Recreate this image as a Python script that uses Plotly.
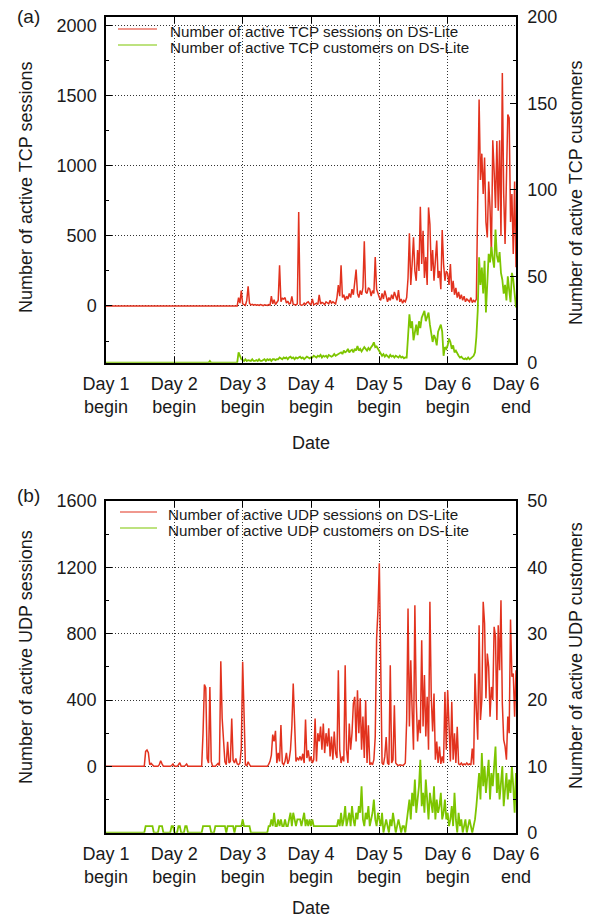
import plotly.graph_objects as go

# ---------------- data (sampled every 0.02 day, Day 1 begin = 0, Day 6 end = 6) ----------------
tcp_sessions = [
    0, 0, 0, 0, 0, 0, 0, 0, 0, 0, 0, 0, 0, 0, 0, 0, 0, 0, 0, 0, 0, 0, 0, 0,
    0, 0, 0, 0, 0, 0, 0, 0, 0, 0, 0, 0, 0, 0, 0, 0, 0, 0, 0, 0, 0, 0, 0, 0,
    0, 0, 0, 0, 0, 0, 0, 0, 0, 0, 0, 0, 0, 0, 0, 0, 0, 0, 0, 0, 0, 0, 0, 0,
    0, 0, 0, 0, 0, 0, 0, 0, 0, 0, 0, 0, 0, 0, 0, 0, 0, 0, 0, 0, 0, 0, 0, 0,
    0, 60, 20, 110, 15, 10, 5, 40, 140, 20, 8, 12, 6, 10, 5, 8, 4, 10, 6, 3, 8, 5, 4, 10, 6,
    70, 15, 45, 10, 25, 40, 290, 30, 55, 50, 60, 20, 35, 15, 20, 68, 12, 10, 8, 15, 671, 10, 5, 8, 20,
    10, 25, 30, 15, 10, 50, 8, 12, 20, 10, 80, 15, 25, 20, 10, 30, 25, 15, 40, 20, 30, 25, 15, 60, 150,
    70, 291, 60, 80, 40, 70, 50, 90, 60, 120, 80, 200, 260, 90, 60, 110, 80, 130, 462, 100, 90, 130, 120, 70, 110,
    90, 350, 120, 80, 60, 40, 90, 50, 110, 70, 30, 60, 40, 80, 50, 100, 60, 40, 114, 30, 50, 20, 40, 30, 60,
    200, 519, 150, 300, 490, 250, 180, 400, 250, 709, 300, 538, 200, 350, 150, 704, 585, 250, 400, 180, 300, 467, 200, 250, 120,
    543, 300, 180, 250, 230, 150, 300, 100, 180, 80, 130, 60, 100, 50, 80, 40, 70, 30, 50, 40, 30, 60, 25, 40, 30,
    50, 700, 1474, 900, 1088, 800, 1060, 600, 490, 889, 700, 372, 1183, 965, 700, 1178, 680, 1183, 500, 1664, 800, 443, 1000, 1367, 1343,
    600, 800, 372, 889, 277,
]

tcp_customers = [
    0, 0, 0, 0, 0, 0, 0, 0, 0, 0, 0, 0, 0, 0, 0, 0, 0, 0, 0, 0, 0, 0, 0, 0,
    0, 0, 0, 0, 0, 0, 0, 0, 0, 0, 0, 0, 0, 0, 0, 0, 0, 0, 0, 0, 0, 0, 0, 0,
    0, 0, 0, 0, 0, 0, 0, 0, 0, 0, 0, 0, 0, 0, 0, 0, 0, 0, 0, 0, 0, 0, 0, 0,
    0, 0, 0, 0, 1, 0, 0, 0, 0, 0, 0, 0, 0, 0, 0, 0, 0, 0, 0, 0, 0, 0, 0, 0,
    0, 6, 4, 2, 1.5, 1, 2, 1, 1.5, 1, 1, 2, 1, 1, 1.5, 1, 2, 1, 1, 1.5, 2, 1, 2, 1.5, 2,
    1, 2, 2, 1.5, 2, 2, 3, 2.5, 2, 3, 2.5, 3, 2, 3, 3.5, 2.5, 3, 2, 3, 2.5, 3, 3.5, 2.5, 3, 2,
    3, 3.5, 3, 2.5, 3, 3, 4, 3.5, 3, 4, 3.5, 4.5, 3, 4, 3.5, 4, 3, 4.5, 4, 3.5, 4, 5, 4, 4.5, 5,
    5.5, 6, 5, 7, 6, 6.5, 8, 6, 7, 7.5, 6, 8, 7, 9.6, 7, 8, 6.5, 7.5, 9, 8, 7, 8.5, 7.5, 9, 10,
    11.8, 9, 9.4, 8, 6, 5, 4, 5, 3.5, 4.5, 4, 3, 4.5, 3.5, 4, 3, 4, 3.5, 3, 4, 3, 3.5, 2.5, 3, 3,
    15, 28, 20, 24, 13, 18, 22, 16, 24, 20, 26, 28, 30, 24, 27, 29, 22, 18, 12, 16, 14, 10, 18, 20, 22,
    18, 4, 9, 8, 10, 14, 12, 8, 10, 6, 7, 5, 4, 3, 3.5, 2.5, 2, 2.5, 2, 3, 2, 2.5, 3, 4, 6,
    15, 30, 61, 45, 55, 40, 59, 29, 50, 63, 58, 67, 60, 55, 77, 62, 58, 64, 52, 48, 40, 45, 36, 50, 42,
    35, 52, 48, 40, 32,
]

udp_sessions = [
    0, 0, 0, 0, 0, 0, 0, 0, 0, 0, 0, 0, 0, 0, 0, 0, 0, 0, 0, 0, 0, 0, 0, 0, 0, 0, 0, 0, 0,
    90, 98, 82, 10, 18, 5, 0, 0, 0, 0, 10, 34, 15, 0, 0, 0, 0, 0, 0, 5, 14, 0, 0, 0, 10,
    22, 0, 0, 0, 5, 14, 0, 0, 0, 0, 0, 0, 0, 0, 0, 0, 0, 200, 493, 473, 48, 20, 479, 30, 0,
    0, 0, 10, 18, 5, 634, 289, 128, 28, 10, 148, 20, 30, 289, 38, 20, 48, 15, 10, 20, 108, 630, 243, 10, 5,
    28, 10, 0, 0, 0, 0, 0, 0, 0, 0, 0, 0, 0, 0, 0, 12, 30, 68, 192, 150, 214, 20, 82, 30, 249,
    20, 10, 30, 82, 15, 40, 100, 243, 499, 182, 30, 50, 40, 60, 36, 76, 20, 283, 50, 97, 30, 60, 20, 40, 288,
    30, 200, 150, 240, 100, 258, 80, 200, 120, 230, 60, 180, 40, 210, 80, 50, 580, 100, 20, 60, 30, 610, 100, 20, 258,
    100, 200, 378, 419, 150, 459, 200, 410, 100, 300, 50, 399, 20, 248, 10, 20, 10, 40, 177, 771, 942, 1224, 640, 20, 10,
    60, 177, 20, 10, 610, 20, 40, 368, 20, 10, 5, 10, 8, 5, 10, 20, 278, 952, 240, 640, 338, 100, 972, 400, 150,
    280, 200, 761, 240, 550, 180, 420, 100, 992, 420, 210, 439, 40, 150, 20, 120, 15, 60, 20, 449, 100, 459, 200, 30, 389,
    40, 200, 20, 238, 15, 10, 20, 8, 15, 10, 20, 10, 15, 8, 107, 10, 560, 338, 160, 851, 280, 400, 992, 862, 410,
    680, 600, 300, 479, 400, 841, 781, 280, 851, 580, 1002, 380, 160, 120, 40, 300, 200, 886, 540, 560, 300, 580,
]

udp_customers = [
    0, 0, 0, 0, 0, 0, 0, 0, 0, 0, 0, 0, 0, 0, 0, 0, 0, 0, 0, 0, 0, 0, 0, 0, 0, 0, 0, 0, 0,
    1, 1, 1, 1, 1, 1, 0, 0, 0, 0, 1, 1, 1, 0, 0, 0, 0, 0, 0, 1, 1, 0, 0, 0, 1,
    1, 0, 0, 0, 1, 1, 0, 0, 0, 0, 0, 0, 0, 0, 0, 0, 0, 1, 1, 1, 1, 1, 1, 0, 0,
    0, 1, 1, 1, 1, 1, 1, 1, 1, 0, 1, 1, 1, 1, 1, 0, 1, 1, 1, 1, 1, 2, 1, 1, 1,
    1, 1, 0, 0, 0, 0, 0, 0, 0, 0, 0, 0, 0, 0, 0, 1, 1, 2, 1, 3, 1, 1, 2, 1, 2,
    1, 1, 2, 1, 1, 2, 3, 1, 3, 2, 1, 2, 2, 2, 1, 2, 3, 1, 2, 1, 2, 1, 2, 1, 1,
    1, 1, 1, 1, 1, 1, 1, 1, 1, 1, 1, 1, 1, 1, 1, 1, 2, 1, 3, 1, 2, 4, 1, 2, 3,
    1, 4, 2, 1, 3, 2, 4, 3, 7, 2, 1, 3, 2, 4, 1, 2, 3, 5, 2, 1, 3, 2, 1, 3, 0,
    1, 2, 1, 0, 2, 1, 3, 1, 0, 1, 2, 1, 0, 1, 1, 0, 2, 3, 5, 2, 6, 4, 8, 3, 5,
    7, 11, 4, 6, 3, 8, 5, 2, 6, 4, 3, 7, 2, 5, 3, 4, 6, 2, 3, 5, 2, 3, 1, 2, 4,
    1, 6, 2, 0, 3, 1, 2, 0, 1, 2, 0, 1, 2, 1, 0, 1, 2, 4, 6, 9, 5, 12, 7, 10, 6,
    8, 11, 5, 9, 7, 10, 13, 6, 9, 5, 8, 10, 4, 7, 9, 5, 8, 6, 10, 7, 3, 9,
]

for arr in (tcp_sessions, tcp_customers, udp_sessions, udp_customers):
    assert len(arr) == 301, len(arr)

days = [i / 50 for i in range(301)]

day_tickvals = [0, 1, 2, 3, 4, 5, 6]
day_ticktext = ["Day 1<br>begin", "Day 2<br>begin", "Day 3<br>begin", "Day 4<br>begin",
                "Day 5<br>begin", "Day 6<br>begin", "Day 6<br>end"]

tcp_sess_ticks = [0, 500, 1000, 1500, 2000]
tcp_cust_ticks = [0, 50, 100, 150, 200]
udp_sess_ticks = [0, 400, 800, 1200, 1600]
udp_cust_ticks = [0, 10, 20, 30, 40, 50]

# ---------------- styling ----------------
W, H = 591, 917
RED = "#E2321E"
GREEN = "#7DC500"
FONT = "Liberation Sans, Arial, Helvetica, sans-serif"
TXT = "#1a1a1a"

def fx(p):
    return p / W

def fy(p):
    return 1 - p / H

XDOM = [fx(106), fx(516)]
TOPDOM = [fy(362.7), fy(17)]
BOTDOM = [fy(832.7), fy(501)]

fig = go.Figure()
fig.add_trace(go.Scatter(x=days, y=tcp_sessions, mode="lines", line=dict(color=RED, width=1.5),
                         xaxis="x", yaxis="y", showlegend=False))
fig.add_trace(go.Scatter(x=days, y=tcp_customers, mode="lines", line=dict(color=GREEN, width=1.8),
                         xaxis="x", yaxis="y2", showlegend=False))
fig.add_trace(go.Scatter(x=days, y=udp_sessions, mode="lines", line=dict(color=RED, width=1.5),
                         xaxis="x2", yaxis="y3", showlegend=False))
fig.add_trace(go.Scatter(x=days, y=udp_customers, mode="lines", line=dict(color=GREEN, width=1.8),
                         xaxis="x2", yaxis="y4", showlegend=False))

tickfont = dict(family=FONT, size=18, color=TXT)
common_x = dict(range=[0, 6], tickmode="array", tickvals=day_tickvals, ticktext=day_ticktext,
                ticks="inside", ticklen=6, tickcolor="black", mirror="ticks", showline=True,
                linecolor="black", linewidth=1.5, showgrid=True, gridcolor="#333",
                griddash="1px,2px", gridwidth=1, zeroline=False, tickfont=tickfont,
                domain=XDOM, ticklabelstandoff=4, automargin=False)
common_yl = dict(ticks="inside", ticklen=6, tickcolor="black", showline=True, linecolor="black",
                 linewidth=1.5, showgrid=True, gridcolor="#333", griddash="1px,2px", gridwidth=1,
                 zeroline=False, tickfont=tickfont, tickmode="array", ticklabelstandoff=4,
                 automargin=False)
common_yr = dict(ticks="inside", ticklen=6, tickcolor="black", showline=True, linecolor="black",
                 linewidth=1.5, showgrid=False, zeroline=False, tickfont=tickfont, tickmode="array",
                 side="right", ticklabelstandoff=6, automargin=False)

fig.update_layout(
    width=W, height=H, margin=dict(l=0, r=0, t=0, b=0, pad=0, autoexpand=False),
    paper_bgcolor="white", plot_bgcolor="white", showlegend=False,
    xaxis=dict(anchor="y", **common_x),
    yaxis=dict(domain=TOPDOM, anchor="x", range=[-405, 2064], tickvals=tcp_sess_ticks,
               minor=dict(ticks="inside", ticklen=3, tickcolor="black", tickmode="array",
                          tickvals=[-250, 250, 750, 1250, 1750], showgrid=False),
               **common_yl),
    yaxis2=dict(overlaying="y", anchor="x", range=[0, 200], tickvals=tcp_cust_ticks,
                minor=dict(ticks="inside", ticklen=3, tickcolor="black", tickmode="array",
                           tickvals=[25, 75, 125, 175], showgrid=False),
                **common_yr),
    xaxis2=dict(anchor="y3", **common_x),
    yaxis3=dict(domain=BOTDOM, anchor="x2", range=[-400, 1600], tickvals=udp_sess_ticks,
                minor=dict(ticks="inside", ticklen=3, tickcolor="black", tickmode="array",
                           tickvals=[-200, 200, 600, 1000, 1400], showgrid=False),
                **common_yl),
    yaxis4=dict(overlaying="y3", anchor="x2", range=[0, 50], tickvals=udp_cust_ticks,
                minor=dict(ticks="inside", ticklen=3, tickcolor="black", tickmode="array",
                           tickvals=[5, 15, 25, 35, 45], showgrid=False),
                **common_yr),
)

ann = []
def add_text(text, x, y, size=18, angle=0, xanchor="center"):
    ann.append(dict(text=text, x=fx(x), y=fy(y), xref="paper", yref="paper", showarrow=False,
                    xanchor=xanchor, yanchor="middle", textangle=angle,
                    font=dict(family=FONT, size=size, color=TXT)))

add_text("(a)", 28, 17, size=19)
add_text("(b)", 28, 495, size=19)
add_text("Number of active TCP sessions", 26, 188, angle=-90)
add_text("Number of active TCP customers", 576, 193, angle=-90)
add_text("Number of active UDP sessions", 26, 657, angle=-90)
add_text("Number of active UDP customers", 576, 656, angle=-90)
add_text("Date", 311, 443)
add_text("Date", 311, 908)

legend_items = [
    ("Number of active TCP sessions on DS-Lite", RED, 118, 157, 29, 168, 31),
    ("Number of active TCP customers on DS-Lite", GREEN, 118, 157, 45, 168, 47),
    ("Number of active UDP sessions on DS-Lite", RED, 120, 157, 512, 166, 514),
    ("Number of active UDP customers on DS-Lite", GREEN, 120, 157, 528, 166, 530),
]
shapes = []
for text, col, x0, x1, ly, tx, ty in legend_items:
    shapes.append(dict(type="line", xref="paper", yref="paper", x0=fx(x0), x1=fx(x1),
                       y0=fy(ly), y1=fy(ly), line=dict(color=col, width=1.2)))
    add_text(text, tx, ty, size=15.2, xanchor="left")

fig.update_layout(annotations=ann, shapes=shapes)
fig.write_html("out.html")
